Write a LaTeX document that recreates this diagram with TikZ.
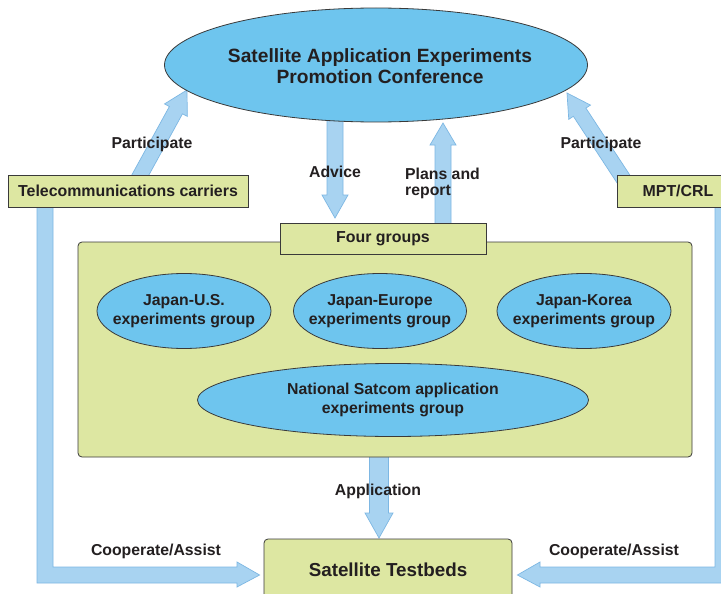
\documentclass[tikz,border=0pt]{standalone}
\usepackage{fontspec}
\setmainfont{Liberation Sans}
\usetikzlibrary{calc,shapes.geometric,backgrounds}
\definecolor{ellblue}{HTML}{6EC5EE}
\definecolor{boxgreen}{HTML}{DDE7A2}
\definecolor{arrfill}{HTML}{A8D3F1}
\definecolor{arrline}{HTML}{7DB7E3}
\definecolor{txt}{HTML}{231F20}
\definecolor{edge}{HTML}{3A3A3A}
\tikzset{
  ell/.style={ellipse, draw=edge, line width=0.8pt, fill=ellblue, inner sep=0pt},
  elltext/.style={text=txt, inner sep=0pt, align=center, font=\bfseries\fontsize{15.8}{19.5}\selectfont},
  gbox/.style={rectangle, draw=edge, line width=0.8pt, fill=boxgreen, inner sep=0pt, text=txt,
    font=\bfseries\fontsize{15.9}{18}\selectfont, align=center},
  lbl/.style={text=txt, inner sep=0pt, font=\bfseries\fontsize{15.8}{15.5}\selectfont},
  arr/.style={fill=arrfill, draw=arrline, line width=0.7pt, line join=miter},
}
\newcommand\blockarr[5]{%
  \coordinate (ba-s) at (#1);
  \coordinate (ba-t) at (#2);
  \coordinate (ba-h) at ($(ba-t)!#5!(ba-s)$);
  \draw[arr] ($(ba-s)!#3!90:(ba-t)$) -- ($(ba-h)!#3!90:(ba-t)$) -- ($(ba-h)!#4!90:(ba-t)$)
    -- (ba-t) -- ($(ba-h)!#4!-90:(ba-t)$) -- ($(ba-h)!#3!-90:(ba-t)$) -- ($(ba-s)!#3!-90:(ba-t)$) -- cycle;}
\begin{document}
\begin{tikzpicture}[x=1pt,y=-1pt]
\clip (0,0) rectangle (721,594);

% panel and nodes
\node[gbox, rounded corners=4pt, minimum width=614pt, minimum height=215pt] (panel) at (385,349.5) {};
\node[ell, minimum width=423pt, minimum height=114pt,
  label={[elltext, xshift=4pt, yshift=-1pt, font=\bfseries\fontsize{19.2}{21}\selectfont]center:Satellite Application Experiments\\Promotion Conference}]
  (conf) at (376,65) {};
\node[gbox, minimum width=240pt, minimum height=32pt] (tel) at (128,191) {Telecommunications carriers};
\node[gbox, minimum width=122pt, minimum height=32pt] (mpt) at (678,191) {MPT/CRL};
\node[gbox, minimum width=206pt, minimum height=31pt] (four) at (383,239) {Four groups};
\node[ell, minimum width=174pt, minimum height=75pt,
  label={[elltext]center:Japan-U.S.\\experiments group}] (us) at (184,311) {};
\node[ell, minimum width=173pt, minimum height=75pt,
  label={[elltext]center:Japan-Europe\\experiments group}] (eu) at (380,311) {};
\node[ell, minimum width=174pt, minimum height=75pt,
  label={[elltext]center:Japan-Korea\\experiments group}] (kr) at (584,311) {};
\node[ell, minimum width=391pt, minimum height=73pt,
  label={[elltext]center:National Satcom application\\experiments group}] (nat) at (393,400) {};
\node[gbox, rounded corners=4pt, minimum width=248pt, minimum height=62pt,
  font=\bfseries\fontsize{18.8}{20}\selectfont] (tb) at (388,570) {Satellite Testbeds};

% connector end points
\coordinate (p1s) at (131,192);
\coordinate (p1t) at (187,90);
\coordinate (p2s) at (632,192);
\coordinate (p2t) at (567,93);
\coordinate (advs) at (335,112);
\coordinate (advt) at (335,218);
\coordinate (plns) at (443,226);
\coordinate (plnt) at (443,123);
\coordinate (apps) at (379,455);
\coordinate (appt) at (379,538);

\begin{pgfonlayer}{background}
  \fill[white] (0,0) rectangle (721,594);
  \blockarr{p1s}{p1t}{7.5pt}{13pt}{23pt}
  \blockarr{p2s}{p2t}{7.5pt}{13pt}{23pt}
  \blockarr{advs}{advt}{8pt}{13pt}{23pt}
  \blockarr{plns}{plnt}{8pt}{13pt}{22pt}
  \blockarr{apps}{appt}{9.5pt}{14pt}{25pt}
  % Cooperate/Assist, left
  \draw[arr] (37,199) -- (37,583) -- (237,583) -- (237,587)
     -- ($(tb.west |- 0,575)+(-4,0)$) -- (237,562) -- (237,567) -- (53,567) -- (53,199) -- cycle;
  % Cooperate/Assist, right
  \draw[arr] (715,199) -- (715,567) -- (540,567) -- (540,562) -- ($(tb.east |- 0,575)+(5,0)$)
     -- (540,587) -- (540,583) -- (731,583) -- (731,199) -- cycle;
\end{pgfonlayer}

% labels
\node[lbl] at (152,144.5) {Participate};
\node[lbl] at (601,144.5) {Participate};
\node[lbl] at (335,172) {Advice};
\node[lbl, align=left, anchor=west] at (405,183.5) {Plans and\\report};
\node[lbl] at (378,491) {Application};
\node[lbl] at (156,551.5) {Cooperate/Assist};
\node[lbl] at (614,551.5) {Cooperate/Assist};
\end{tikzpicture}
\end{document}
